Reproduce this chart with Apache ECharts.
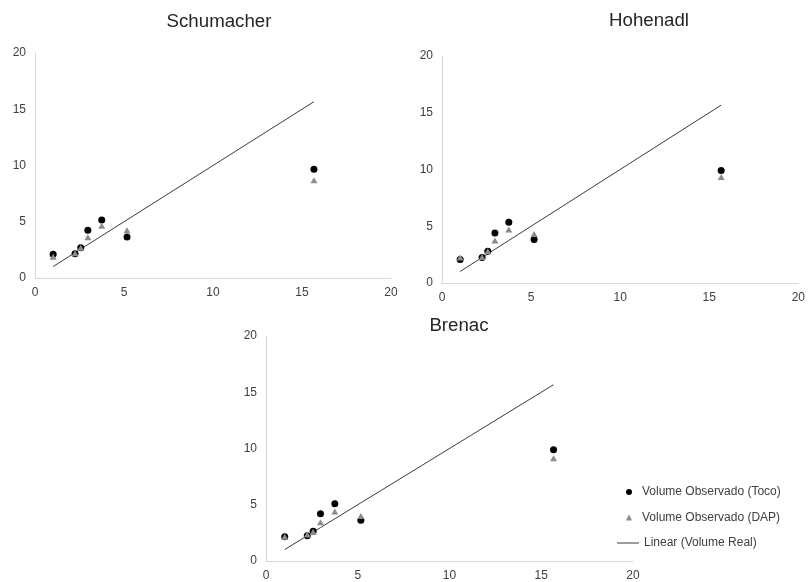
<!DOCTYPE html>
<html>
<head>
<meta charset="utf-8">
<script src="https://cdn.jsdelivr.net/npm/echarts@6/dist/echarts.min.js"></script>
<style>
  html, body { margin: 0; padding: 0; background: #fff; }
  #main { width: 808px; height: 582px; }
</style>
</head>
<body>
<div id="main"></div>
<script>
// volume real (eixo x) e volumes observados por método
const volumeReal = [1.02, 2.25, 2.57, 2.97, 3.75, 5.17, 15.67];

const schumacherToco = [2.11, 2.16, 2.69, 4.24, 5.16, 3.64, 9.66];
const schumacherDap = [1.89, 2.2, 2.69, 3.62, 4.65, 4.24, 8.68];

const hohenadlToco = [2.06, 2.24, 2.8, 4.41, 5.36, 3.83, 9.92];
const hohenadlDap = [2.25, 2.3, 2.8, 3.74, 4.71, 4.32, 9.33];

const brenacToco = [2.15, 2.24, 2.65, 4.21, 5.09, 3.62, 9.88];
const brenacDap = [2.15, 2.36, 2.59, 3.44, 4.41, 4.0, 9.13];

const titulos = ['Schumacher', 'Hohenadl', 'Brenac'];
const axisTicks = [0, 5, 10, 15, 20];

const font = "'Liberation Sans', Arial, sans-serif";
const labelColor = '#404040';
const corToco = '#000';
const corDap = '#8c8c8c';
const corLinha = '#3a3a3a';

const pairs = (ys) => volumeReal.map((x, i) => [x, ys[i]]);

let chart = echarts.init(document.getElementById('main'));

const grids = [
  { left: 35, top: 53, width: 356, height: 225 },
  { left: 442, top: 56, width: 359, height: 227 },
  { left: 266, top: 336, width: 367, height: 227 }
];

const dados = [
  [schumacherToco, schumacherDap],
  [hohenadlToco, hohenadlDap],
  [brenacToco, brenacDap]
];

function axis(i) {
  return {
    type: 'value',
    gridIndex: i,
    min: axisTicks[0],
    max: axisTicks[axisTicks.length - 1],
    interval: axisTicks[1] - axisTicks[0],
    axisLine: { show: true, lineStyle: { color: '#d9d9d9', width: 1 } },
    axisTick: { show: false },
    splitLine: { show: false },
    axisLabel: { color: labelColor, fontSize: 12, fontFamily: font, margin: 9 }
  };
}

let series = [];
dados.forEach((d, i) => {
  series.push({
    name: 'Volume Observado (Toco)',
    type: 'scatter',
    xAxisIndex: i,
    yAxisIndex: i,
    symbol: 'circle',
    symbolSize: 7,
    itemStyle: { color: corToco, opacity: 1 },
    data: pairs(d[0]),
    z: 3
  });
  series.push({
    name: 'Volume Observado (DAP)',
    type: 'scatter',
    xAxisIndex: i,
    yAxisIndex: i,
    symbol: 'triangle',
    symbolSize: [7, 6],
    itemStyle: { color: corDap, opacity: 1 },
    data: pairs(d[1]),
    z: 4
  });
  series.push({
    name: 'Linear (Volume Real)',
    type: 'line',
    xAxisIndex: i,
    yAxisIndex: i,
    symbol: 'none',
    showSymbol: false,
    itemStyle: { color: corLinha },
    lineStyle: { color: corLinha, width: 1 },
    data: volumeReal.map(v => [v, v]),
    silent: true,
    z: 2
  });
});

const legendText = { fontSize: 12, color: labelColor, fontFamily: font, lineHeight: 14 };

const option = {
  animation: false,
  textStyle: { fontFamily: font },
  title: [
    { text: titulos[0], left: 214, top: 7, textAlign: 'center' },
    { text: titulos[1], left: 644, top: 6, textAlign: 'center' },
    { text: titulos[2], left: 454, top: 311, textAlign: 'center' }
  ].map(t => Object.assign(t, {
    padding: 5,
    textStyle: { fontSize: 18.7, fontWeight: 'normal', color: '#262626', fontFamily: font }
  })),
  legend: [
    {
      orient: 'vertical',
      left: 621,
      top: 480,
      itemWidth: 6,
      itemHeight: 6,
      itemGap: 11.6,
      textStyle: Object.assign({ padding: [0, 0, 0, 5] }, legendText),
      data: [
        { name: 'Volume Observado (Toco)', icon: 'circle', itemStyle: { color: corToco } },
        { name: 'Volume Observado (DAP)', icon: 'triangle', itemStyle: { color: corDap } }
      ]
    },
    {
      orient: 'vertical',
      left: 612,
      top: 531,
      itemWidth: 22,
      itemHeight: 1,
      textStyle: legendText,
      data: [
        { name: 'Linear (Volume Real)', icon: 'rect', itemStyle: { color: corLinha } }
      ]
    }
  ],
  grid: grids,
  xAxis: grids.map((g, i) => axis(i)),
  yAxis: grids.map((g, i) => axis(i)),
  series: series
};

chart.setOption(option);
</script>
</body>
</html>
